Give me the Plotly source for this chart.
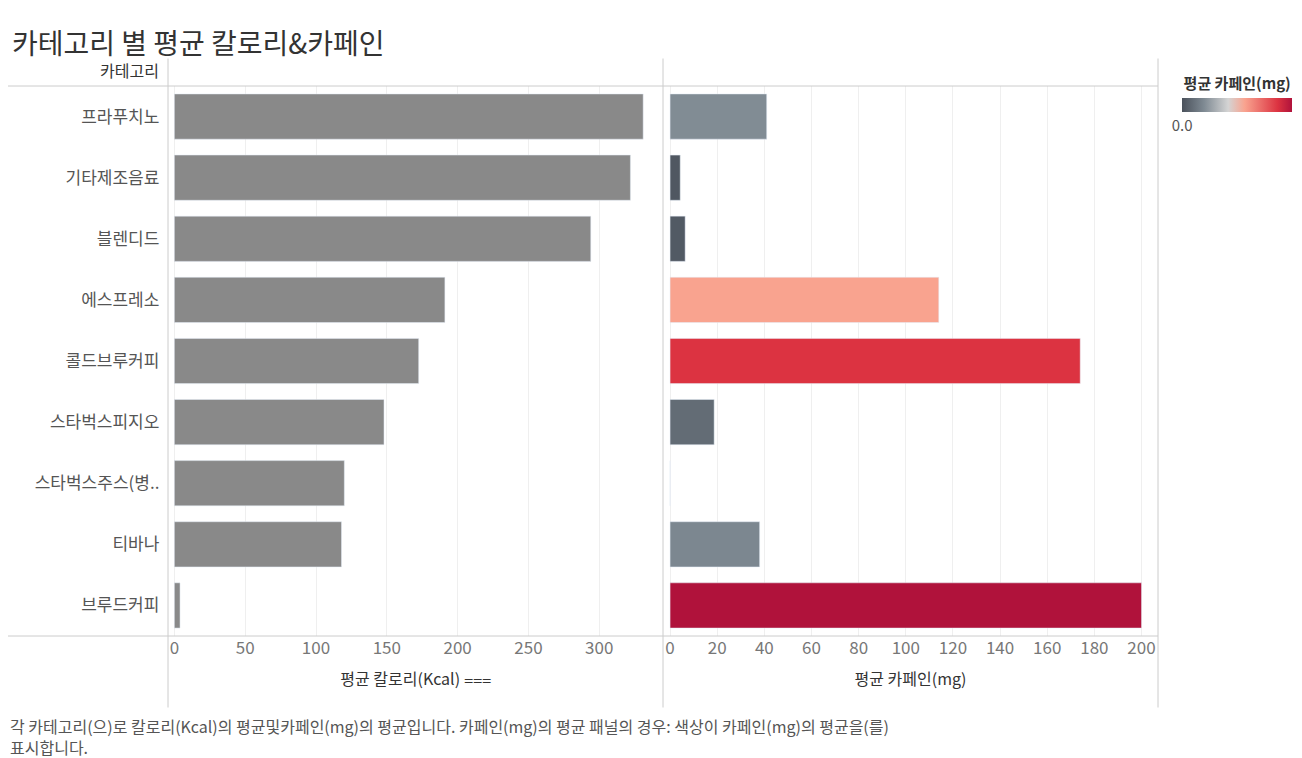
import plotly.graph_objects as go
from plotly.subplots import make_subplots

categories = ["프라푸치노", "기타제조음료", "블렌디드", "에스프레소", "콜드브루커피",
              "스타벅스피지오", "스타벅스주스(병..", "티바나", "브루드커피"]
calories = [331, 322, 294, 191, 172.5, 148, 120, 118, 4]
caffeine = [41, 4.3, 6.4, 114, 174, 18.7, 0, 38, 200]

F = "Noto Sans CJK KR"
fig = make_subplots(rows=1, cols=2, shared_yaxes=True, horizontal_spacing=0)
fig.add_trace(go.Bar(y=categories, x=calories, orientation="h", marker_color="#898989",
                     width=0.74, showlegend=False), 1, 1)
cs = [[0, "#4a515b"], [0.2, "#7f8a93"], [0.42, "#d4d4d4"], [0.57, "#f9a38f"],
      [0.87, "#dc3341"], [1, "#b0123b"]]
fig.add_trace(go.Bar(y=categories, x=caffeine, orientation="h", width=0.74, showlegend=False,
                     marker=dict(color=caffeine, colorscale=cs, cmin=0, cmax=200,
                                 colorbar=dict(orientation="h", x=1.08, xanchor="center",
                                               y=0.965, yanchor="middle", len=130, lenmode="pixels",
                                               thickness=14, tickvals=[0, 200], ticktext=["0.0", "200.0"],
                                               tickfont=dict(size=15, color="#555", family=F),
                                               title=dict(text="<b>평균 카페인(mg)</b>", side="top",
                                                          font=dict(size=15, color="#333", family=F)),
                                               outlinewidth=0))), 1, 2)
ax = dict(showgrid=True, gridcolor="#efefef", zeroline=False, showline=False, automargin=False,
          tickfont=dict(size=17, color="#777", family=F), ticks="")
fig.update_xaxes(**ax)
fig.update_xaxes(range=[-4.5, 345], tickvals=list(range(0, 301, 50)),
                 title=dict(text="평균 칼로리(Kcal) ⩶", font=dict(size=16, color="#333", family=F)), row=1, col=1)
fig.update_xaxes(range=[-3, 207], tickvals=list(range(0, 201, 20)),
                 title=dict(text="평균 카페인(mg)", font=dict(size=16, color="#333", family=F)), row=1, col=2)
fig.update_yaxes(autorange="reversed", showgrid=False, ticks="", ticksuffix="  ", automargin=False,
                 tickfont=dict(size=17, color="#555", family=F))
fig.update_layout(
    width=1302, height=758, margin=dict(l=160, r=152, t=78, b=130, autoexpand=False),
    plot_bgcolor="white", paper_bgcolor="white", bargap=0.26,
    title=dict(text="카테고리 별 평균 칼로리&카페인", x=0.003, y=0.965, xanchor="left",
               font=dict(size=28, color="#333", family=F)),
    shapes=[
        dict(type="line", xref="paper", yref="paper", x0=-0.162, x1=1.0, y0=1, y1=1, line=dict(color="#ccc", width=1)),
        dict(type="line", xref="paper", yref="paper", x0=-0.162, x1=1.0, y0=0, y1=0, line=dict(color="#ccc", width=1)),
        dict(type="line", xref="paper", yref="paper", x0=0, x1=0, y0=-0.13, y1=1.05, line=dict(color="#ccc", width=1)),
        dict(type="line", xref="paper", yref="paper", x0=0.5, x1=0.5, y0=-0.13, y1=1.05, line=dict(color="#ccc", width=1)),
        dict(type="line", xref="paper", yref="paper", x0=1, x1=1, y0=-0.13, y1=1.05, line=dict(color="#ccc", width=1)),
    ],
    annotations=[
        dict(text="카테고리", xref="paper", yref="paper", x=-0.007, y=1.003, xanchor="right", yanchor="bottom",
             showarrow=False, font=dict(size=16, color="#333", family=F)),
        dict(text="각 카테고리(으)로 칼로리(Kcal)의 평균및카페인(mg)의 평균입니다. 카페인(mg)의 평균 패널의 경우: 색상이 카페인(mg)의 평균을(를)<br>표시합니다.",
             xref="paper", yref="paper", x=-0.162, y=-0.138, xanchor="left", yanchor="top", align="left",
             showarrow=False, font=dict(size=16, color="#555", family=F)),
    ],
)
fig.write_html("out.html")
